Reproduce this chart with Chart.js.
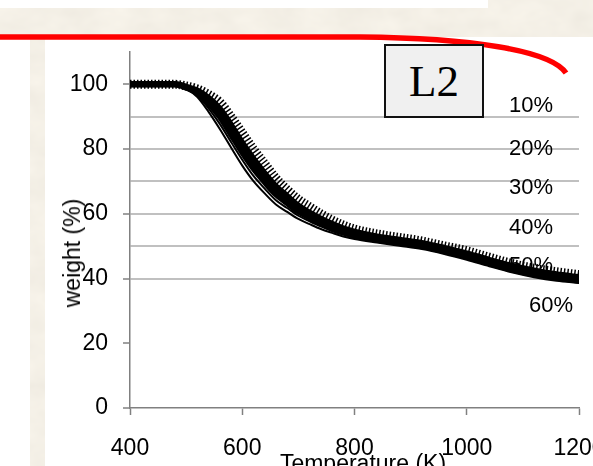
<!DOCTYPE html>
<html>
<head>
<meta charset="utf-8">
<script src="https://cdn.jsdelivr.net/npm/chart.js"></script>
<style>
    html, body { margin: 0; padding: 0; }
    body {
        width: 593px; height: 466px; overflow: hidden; position: relative;
        background: #fff; font-family: "Liberation Sans", Arial, sans-serif;
    }
    #bg { position: absolute; left: 0; top: 0; }
    #plot { position: absolute; left: 0; top: 0; }
    .pct { position: absolute; font-size: 22px; line-height: 22px; color: #000; text-align: right; width: 80px; }
    .title { position: absolute; font-size: 23px; line-height: 24px; color: #000; white-space: nowrap; }
    #ytitle { left: 72px; top: 253px; transform: translate(-50%, -50%) rotate(-90deg); }
    #xtitle { left: 363px; top: 463px; transform: translate(-50%, -50%); }
    #tag {
        position: absolute; left: 384px; top: 44px; width: 100px; height: 74px;
        box-sizing: border-box; border: 2px solid #111; background: #f0f0f0;
        font-family: "Liberation Serif", "DejaVu Serif", serif; font-size: 45px;
        line-height: 70px; text-align: center;
    }
</style>
</head>
<body>
<svg id="bg" width="593" height="466">
    <defs>
        <filter id="paper" x="0" y="0" width="100%" height="100%">
            <feTurbulence type="fractalNoise" baseFrequency="0.03 0.045" numOctaves="3" seed="4"/>
            <feColorMatrix type="matrix" values="0.1 0 0 0 0.855  0.1 0 0 0 0.82  0.1 0 0 0 0.745  0 0 0 0 1"/>
        </filter>
    </defs>
    <rect x="0" y="0" width="593" height="466" filter="url(#paper)"/>
    <rect x="0" y="0" width="488" height="8" fill="#fff"/>
    <rect x="0" y="37" width="593" height="429" fill="#fff"/>
    <rect x="30" y="39" width="15" height="427" filter="url(#paper)"/>
    <path d="M-5,37 L360,37 C470,38 550,50 566,73" fill="none" stroke="#ff0000" stroke-width="5.5"/>
</svg>

<canvas id="plot" width="640" height="476"></canvas>

<div id="tag">L2</div>
<div class="pct" style="left:473px; top:94px;">10%</div>
<div class="pct" style="left:473px; top:137px;">20%</div>
<div class="pct" style="left:473px; top:176px;">30%</div>
<div class="pct" style="left:473px; top:216px;">40%</div>
<div class="pct" style="left:473px; top:254px;">50%</div>
<div class="pct" style="left:493px; top:294px;">60%</div>
<div class="title" id="ytitle">weight (%)</div>
<div class="title" id="xtitle">Temperature (K)</div>

<script>
// TGA curves, weight (%) against temperature (K)
var temps = [400, 440, 480, 500, 520, 540, 560, 580, 600, 620, 640, 660, 680, 700, 720, 740, 760, 780, 800, 840, 880, 920, 960, 1000, 1040, 1080, 1120, 1160, 1200];

var w10 = [100, 100, 100, 99.5, 98.6, 96.9, 94.5, 90, 85, 80, 75.5, 71, 67.5, 64.5, 62.2, 60, 58.1, 56.5, 55.3, 53.8, 52.7, 51.6, 50.1, 48.6, 46.6, 44.7, 43.2, 42.1, 41.2];
var w20 = [100, 100, 100, 99.3, 98.1, 95.8, 92.5, 87.5, 82, 77, 72.5, 68.5, 65.5, 62.5, 60.4, 58.5, 56.9, 55.5, 54.5, 53, 52, 51, 49.5, 47.8, 45.8, 44, 42.5, 41.3, 40.5];
var w30 = [100, 100, 100, 99.1, 97.7, 94.8, 91, 85.7, 80.3, 75.3, 71, 67, 64.2, 61.5, 59.4, 57.7, 56.1, 54.8, 53.8, 52.5, 51.5, 50.5, 49, 47.2, 45.2, 43.3, 41.8, 40.7, 39.8];
var w40 = [100, 100, 100, 99, 97.3, 94.1, 90, 84.5, 79, 74, 69.8, 66, 63.3, 60.7, 58.8, 57, 55.5, 54.3, 53.3, 52, 51, 50, 48.5, 46.7, 44.7, 42.8, 41.3, 40.2, 39.3];
var w50 = [100, 100, 100, 98.8, 96.6, 92.6, 87.8, 82.2, 76.7, 71.7, 67.8, 64.2, 61.8, 59.4, 57.7, 56.1, 54.7, 53.6, 52.7, 51.5, 50.5, 49.5, 48, 46.2, 44.2, 42.3, 40.8, 39.7, 39];
var w60 = [100, 100, 100, 98.6, 96.1, 91.5, 86.2, 80.5, 74.9, 70.1, 66.3, 62.9, 60.6, 58.4, 56.8, 55.3, 54.1, 53, 52.2, 51.1, 50.1, 49.1, 47.6, 45.8, 43.8, 41.9, 40.4, 39.3, 38.6];

var seriesNames = ['10%', '20%', '30%', '40%', '50%', '60%'];
var yTickLabels = [0, 20, 40, 60, 80, 100];
var yGridValues = [40, 50, 60, 70, 80, 90];

function toPoints(values) {
    return temps.map(function (t, i) { return { x: t, y: values[i] }; });
}

function curve(name, values, width, order) {
    return {
        label: name,
        data: toPoints(values),
        borderColor: '#000',
        borderWidth: width,
        borderCapStyle: 'round',
        borderJoinStyle: 'round',
        cubicInterpolationMode: 'monotone',
        pointRadius: 0,
        fill: false,
        order: order
    };
}

var hatched = curve(seriesNames[0], w10, 9, 6);
hatched.borderDash = [1.5, 2];
hatched.borderCapStyle = 'butt';

var datasets = [
    hatched,
    curve(seriesNames[1], w20, 6, 5),
    curve(seriesNames[2], w30, 6, 4),
    curve(seriesNames[3], w40, 6, 3),
    curve(seriesNames[4], w50, 2, 2),
    curve(seriesNames[5], w60, 2, 1)
];

var ctx = document.getElementById('plot').getContext('2d');
new Chart(ctx, {
    type: 'line',
    data: { datasets: datasets },
    options: {
        responsive: false,
        animation: false,
        layout: { padding: { left: 0, top: 52, right: 61, bottom: 0 } },
        plugins: { legend: { display: false }, tooltip: { enabled: false } },
        scales: {
            x: {
                type: 'linear',
                min: 400,
                max: 1200,
                afterFit: function (scale) { scale.height = 68; },
                ticks: {
                    stepSize: 200,
                    color: '#000',
                    padding: 20,
                    maxRotation: 0,
                    font: { family: 'Liberation Sans', size: 23 },
                    callback: function (v) { return String(v); }
                },
                grid: { drawOnChartArea: false, tickLength: 7, tickColor: '#808080', tickWidth: 1.5 },
                border: { color: '#808080', width: 1.5 }
            },
            y: {
                min: 0,
                max: 110,
                afterFit: function (scale) { scale.width = 130; },
                ticks: {
                    stepSize: 10,
                    color: '#000',
                    padding: 15,
                    font: { family: 'Liberation Sans', size: 23 },
                    callback: function (v) { return yTickLabels.indexOf(v) >= 0 ? String(v) : ''; }
                },
                grid: {
                    tickLength: 7,
                    lineWidth: 2,
                    color: function (c) { return yGridValues.indexOf(c.tick.value) >= 0 ? '#c0c0c0' : 'rgba(0,0,0,0)'; },
                    tickColor: function (c) { return yTickLabels.indexOf(c.tick.value) >= 0 ? '#808080' : 'rgba(0,0,0,0)'; },
                    tickWidth: 1.5
                },
                border: { color: '#808080', width: 1.5 }
            }
        }
    }
});
</script>
</body>
</html>
